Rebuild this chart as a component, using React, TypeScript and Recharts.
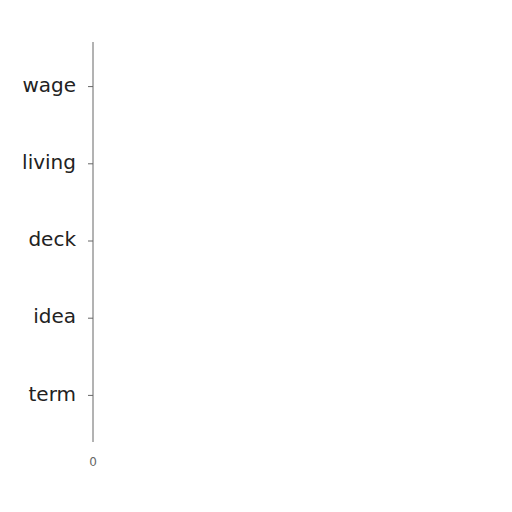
import {BarChart, Bar, XAxis, YAxis} from 'recharts';

const categories = ['wage', 'living', 'deck', 'idea', 'term'];
const amounts = [0, 0, 0, 0, 0];
const xTicks = [0];

const data = categories.map((name, i) => ({name, amount: amounts[i]}));

export default function App() {
	return (
		<BarChart
			width={496}
			height={496}
			data={data}
			layout="vertical"
			margin={{top: 34, right: 20, left: 0, bottom: 32}}
		>
			<XAxis
				type="number"
				domain={[0, 1]}
				ticks={xTicks}
				axisLine={false}
				tickLine={false}
				tickMargin={9}
				height={30}
				tick={{fontSize: 12, fill: '#666', fontFamily: 'DejaVu Sans'}}
			/>
			<YAxis
				type="category"
				dataKey="name"
				width={85}
				stroke="#666"
				tickSize={5}
				tickMargin={12}
				padding={{top: 6, bottom: 8}}
				tick={{fontSize: 20, fill: '#222', fontFamily: 'DejaVu Sans', dy: -2}}
			/>
			<Bar dataKey="amount" fill="#8884d8" isAnimationActive={false} />
		</BarChart>
	);
}
